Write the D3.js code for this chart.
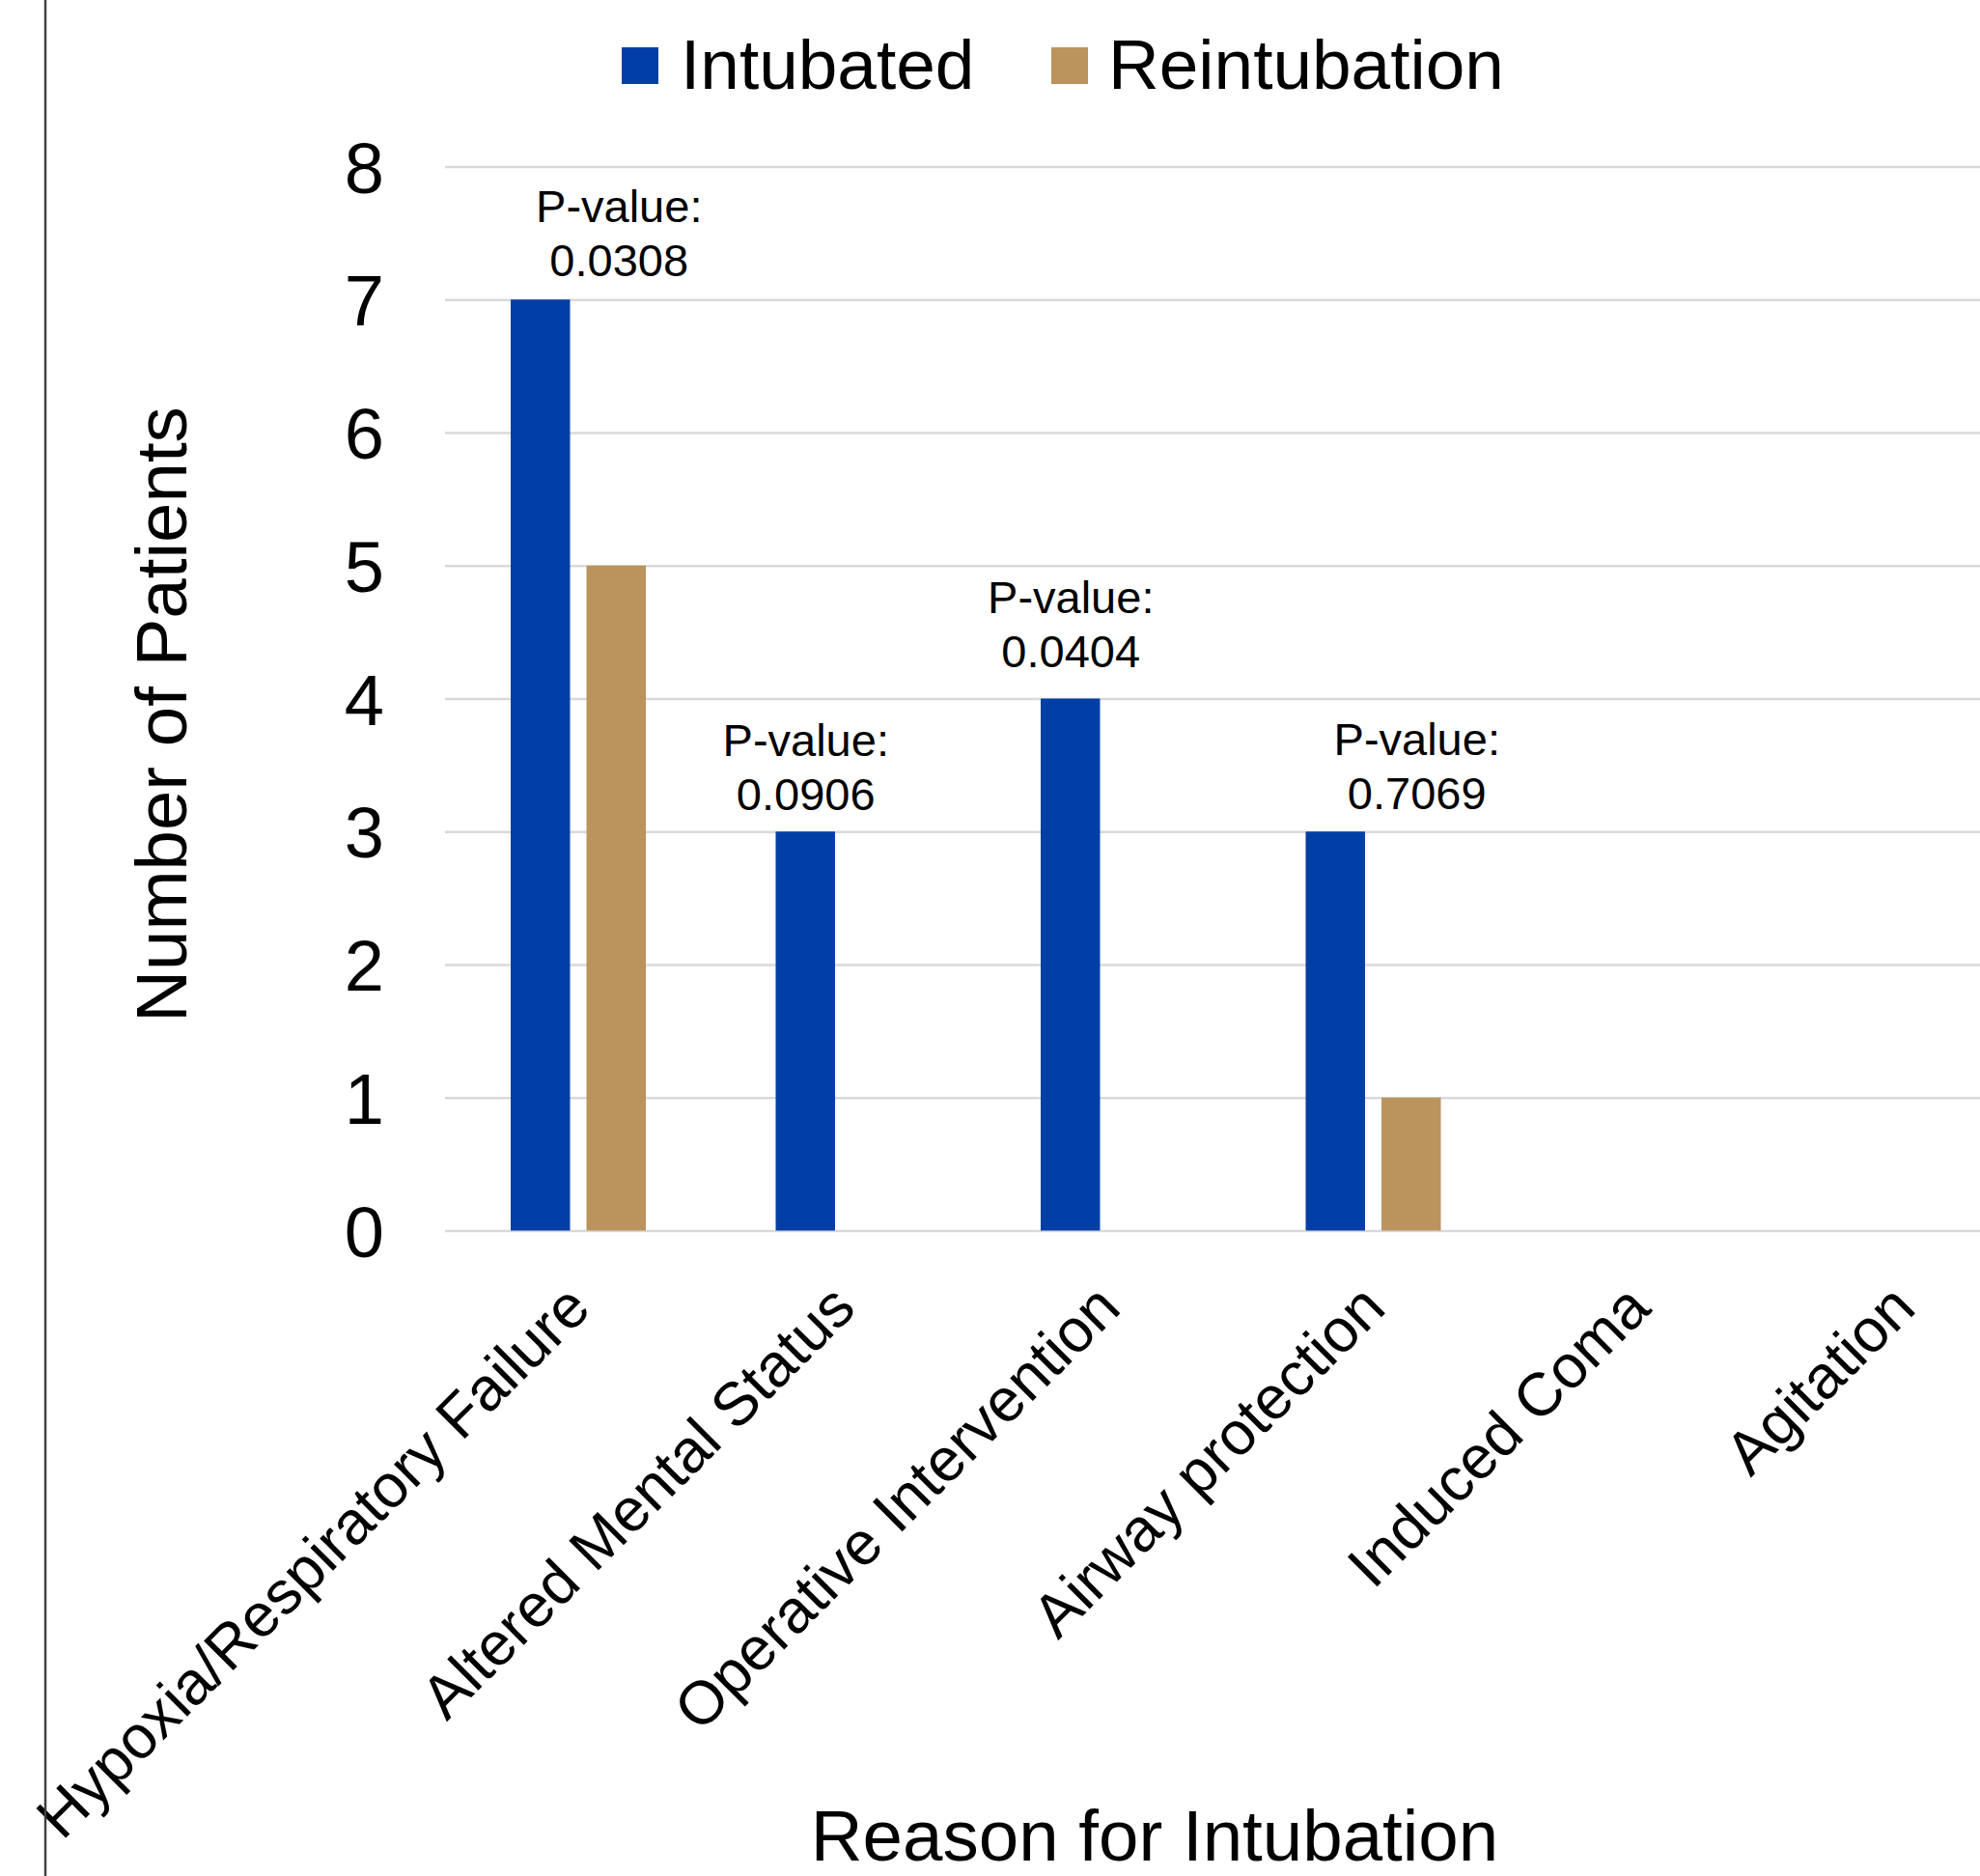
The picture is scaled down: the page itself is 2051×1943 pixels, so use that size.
<!DOCTYPE html>
<html>
<head>
<meta charset="utf-8">
<script src="https://cdn.jsdelivr.net/npm/d3@7"></script>
<style>
  html, body { margin: 0; padding: 0; background: #fff; }
  svg { display: block; font-family: "Liberation Sans", Arial, sans-serif; }
</style>
</head>
<body>
<svg id="chart" width="2051" height="1943"></svg>
<script>
// ---- data ----
const categories = ["Hypoxia/Respiratory Failure", "Altered Mental Status", "Operative Intervention", "Airway protection", "Induced Coma", "Agitation"];
const seriesNames = ["Intubated", "Reintubation"];
const intubated = [7, 3, 4, 3, 0, 0];
const reintubation = [5, 0, 0, 1, 0, 0];
const yTicks = [0, 1, 2, 3, 4, 5, 6, 7, 8];
const pCategories = ["Hypoxia/Respiratory Failure", "Altered Mental Status", "Operative Intervention", "Airway protection"];
const pValues = ["0.0308", "0.0906", "0.0404", "0.7069"];
const yTitle = "Number of Patients";
const xTitle = "Reason for Intubation";

// ---- layout / style ----
const W = 2051, H = 1943;
const plotLeft = 461, plotTop = 172.5, plotBottom = 1274.5;
const step = 274.5;
const plotRight = plotLeft + step * categories.length;
const colors = { "Intubated": "#013EA5", "Reintubation": "#BA945C" };
const font = '"Liberation Sans", Arial, sans-serif';
// annotation placement relative to category centre / bar top (px)
const pLayout = [
  { dx: 43, dy: 24.5 },
  { dx: -38, dy: 22 },
  { dx: -38, dy: 32.5 },
  { dx: 46, dy: 23 }
];

const svg = d3.select("#chart");
svg.append("rect").attr("width", W).attr("height", H).attr("fill", "#fff");

const x0 = d3.scaleBand().domain(categories).range([plotLeft, plotRight]).padding(0);
const x1 = d3.scaleBand().domain(seriesNames).range([68, 208]).paddingInner(0.217).paddingOuter(0);
const y = d3.scaleLinear().domain([0, 8]).range([plotBottom, plotTop]);

// gridlines
const grid = svg.append("g").attr("transform", `translate(${plotLeft},0)`)
  .call(d3.axisLeft(y).tickValues(yTicks).tickSize(-(plotRight - plotLeft)).tickFormat(""));
grid.select(".domain").remove();
grid.selectAll("line").attr("stroke", "#d9d9d9").attr("stroke-width", 2.5);

// y axis labels
const yAxis = svg.append("g").attr("transform", `translate(${plotLeft},0)`)
  .call(d3.axisLeft(y).tickValues(yTicks).tickSize(0).tickPadding(63).tickFormat(d3.format("d")));
yAxis.select(".domain").remove();
yAxis.selectAll("text").attr("font-family", font).attr("font-size", 74).attr("fill", "#000").attr("dy", "0.36em");

// bars
const rows = categories.map((c, i) => ({ cat: c, values: [
  { key: "Intubated", v: intubated[i] },
  { key: "Reintubation", v: reintubation[i] }
]}));
const groups = svg.append("g").selectAll("g").data(rows).join("g")
  .attr("transform", d => `translate(${x0(d.cat)},0)`);
groups.selectAll("rect").data(d => d.values.filter(e => e.v > 0)).join("rect")
  .attr("x", d => x1(d.key))
  .attr("width", x1.bandwidth())
  .attr("y", d => y(d.v))
  .attr("height", d => y(0) - y(d.v))
  .attr("fill", d => colors[d.key]);

// x axis labels
const xAxis = svg.append("g").attr("transform", `translate(0,${plotBottom})`)
  .call(d3.axisBottom(x0).tickSize(0));
xAxis.select(".domain").remove();
xAxis.selectAll("text")
  .attr("font-family", font).attr("font-size", 63).attr("fill", "#000")
  .attr("x", 0).attr("y", 0).attr("dy", 0)
  .attr("text-anchor", "end")
  .attr("transform", "translate(16,83) rotate(-45)");

// p-value annotations
pCategories.forEach((c, i) => {
  const idx = categories.indexOf(c);
  const top = Math.max(intubated[idx], reintubation[idx]);
  const cx = x0(c) + x0.bandwidth() / 2 + pLayout[i].dx;
  const by = y(top) - pLayout[i].dy;
  const t = svg.append("text").attr("font-family", font).attr("font-size", 47)
    .attr("text-anchor", "middle").attr("fill", "#000");
  t.append("tspan").attr("x", cx).attr("y", by - 56).text("P-value:");
  t.append("tspan").attr("x", cx).attr("y", by).text(pValues[i]);
});

// axis titles
svg.append("text").attr("font-family", font).attr("font-size", 74.5).attr("fill", "#000")
  .attr("text-anchor", "middle")
  .attr("transform", `translate(193,740) rotate(-90)`)
  .text(yTitle);
svg.append("text").attr("font-family", font).attr("font-size", 74.5).attr("fill", "#000")
  .attr("text-anchor", "middle")
  .attr("x", 1196).attr("y", 1927)
  .text(xTitle);

// legend
const legendItems = [
  { key: "Intubated", sx: 644, tx: 705 },
  { key: "Reintubation", sx: 1089, tx: 1148 }
];
const lg = svg.append("g");
legendItems.forEach(it => {
  lg.append("rect").attr("x", it.sx).attr("y", 49).attr("width", 38).attr("height", 38).attr("fill", colors[it.key]);
  lg.append("text").attr("x", it.tx).attr("y", 92).attr("font-family", font).attr("font-size", 73).attr("fill", "#000").text(it.key);
});

// left border line
svg.append("line").attr("x1", 47).attr("x2", 47).attr("y1", 0).attr("y2", H)
  .attr("stroke", "#404040").attr("stroke-width", 2.5);
</script>
</body>
</html>
